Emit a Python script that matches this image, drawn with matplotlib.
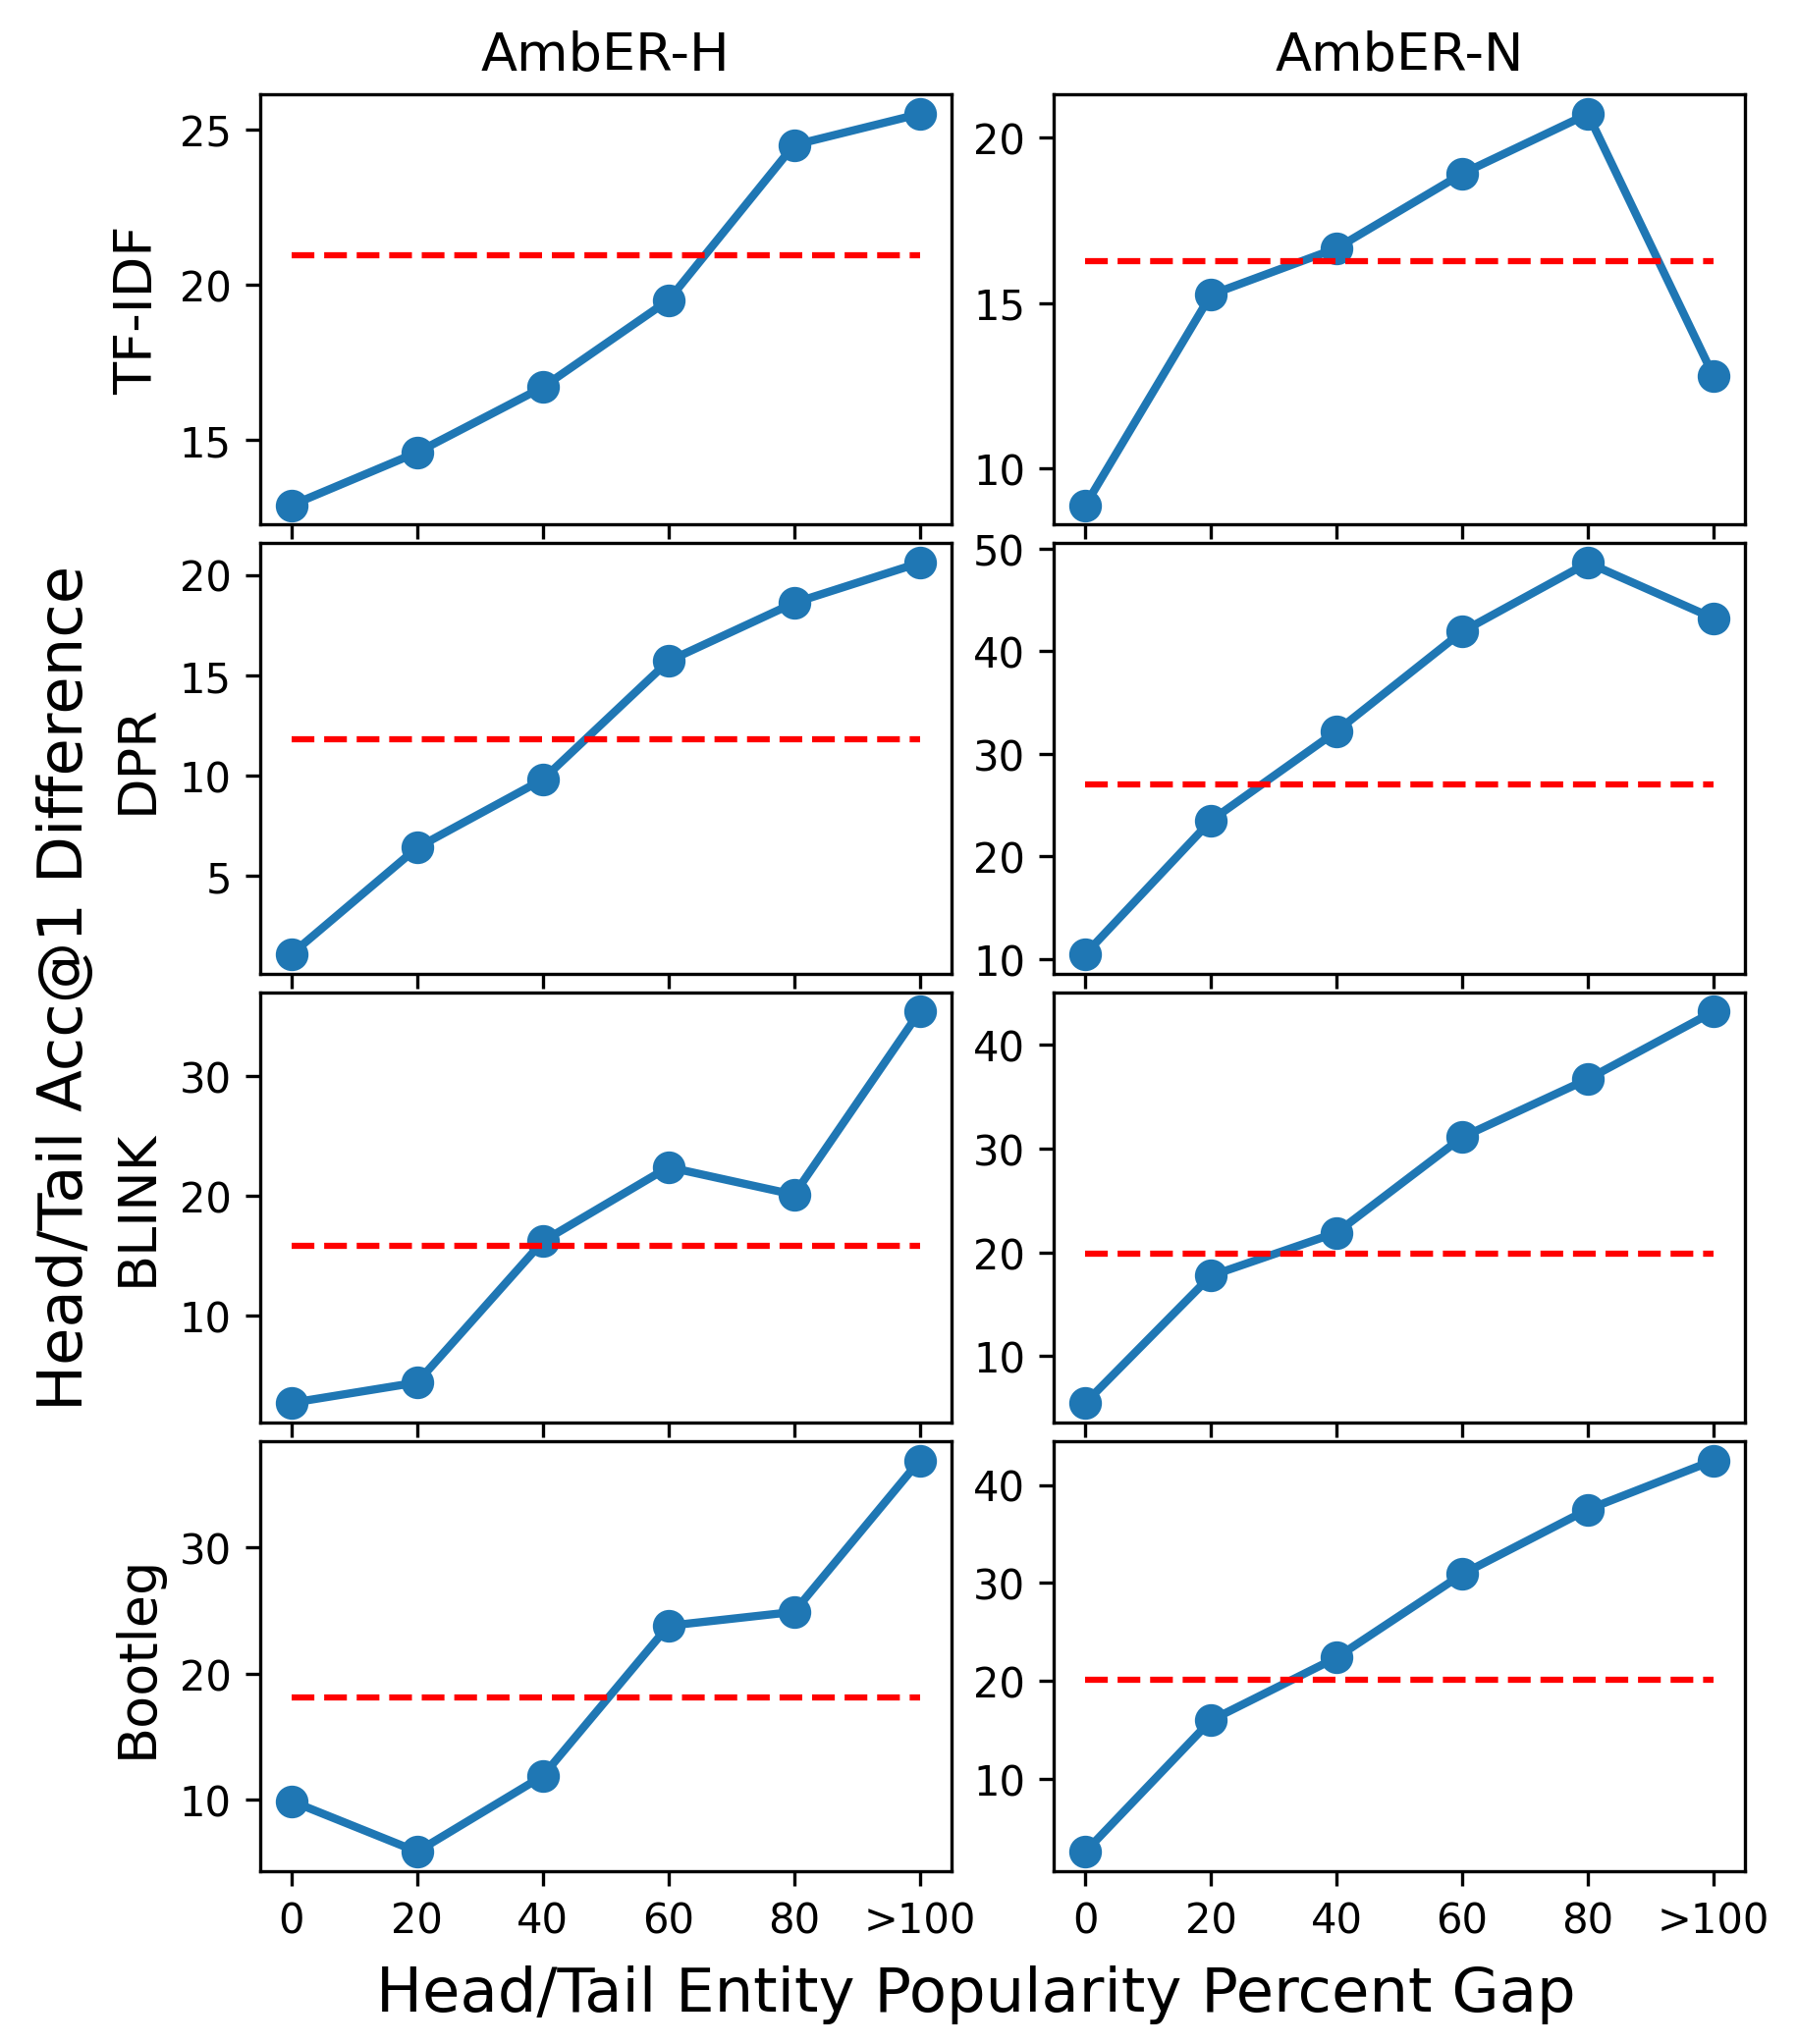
import numpy as np
import matplotlib.pyplot as plt

# x axis: head/tail popularity percent gap buckets
gap_labels = ["0", "20", "40", "60", "80", ">100"]

datasets = ["AmbER-H", "AmbER-N"]
models = ["TF-IDF", "DPR", "BLINK", "Bootleg"]

# Acc@1 difference per bucket, AmbER-H column
tfidf_h = [12.9, 14.6, 16.7, 19.5, 24.5, 25.5]
dpr_h = [1.1, 6.4, 9.8, 15.7, 18.6, 20.6]
blink_h = [2.7, 4.4, 16.2, 22.4, 20.1, 35.4]
bootleg_h = [9.9, 5.9, 11.9, 23.8, 24.9, 36.9]

# AmbER-N column
tfidf_n = [8.9, 15.25, 16.65, 18.9, 20.7, 12.8]
dpr_n = [10.5, 23.5, 32.2, 41.9, 48.6, 43.2]
blink_n = [5.5, 17.75, 21.9, 31.1, 36.7, 43.2]
bootleg_n = [2.6, 16.0, 22.4, 30.9, 37.5, 42.5]

# overall difference (red dashed line)
overall_h = [20.95, 11.8, 15.8, 18.1]
overall_n = [16.27, 27.05, 19.85, 20.15]

values_h = [tfidf_h, dpr_h, blink_h, bootleg_h]
values_n = [tfidf_n, dpr_n, blink_n, bootleg_n]

x = np.arange(len(gap_labels))

fig, axes = plt.subplots(4, 2, figsize=(6.1, 6.943), dpi=300, sharex=True)
fig.subplots_adjust(left=0.1448, right=0.971, top=0.9534, bottom=0.0845,
                    wspace=0.149, hspace=0.043)

for i in range(len(models)):
    for j, (vals, overall) in enumerate([(values_h, overall_h), (values_n, overall_n)]):
        ax = axes[i, j]
        ax.plot(x, vals[i], marker='o', color='tab:blue', linewidth=2, markersize=7)
        ax.plot(x, [overall[i]] * len(x), 'r--', linewidth=1.5)
        if i == 0:
            ax.set_title(datasets[j], fontsize=13)
    axes[i, 0].set_ylabel(models[i], fontsize=13)

axes[-1, 0].set_xticks(x)
axes[-1, 0].set_xticklabels(gap_labels)

fig.supxlabel("Head/Tail Entity Popularity Percent Gap", fontsize=15, x=0.543)
fig.supylabel("Head/Tail Acc@1 Difference", fontsize=15, y=0.517)

plt.savefig("out.png")
